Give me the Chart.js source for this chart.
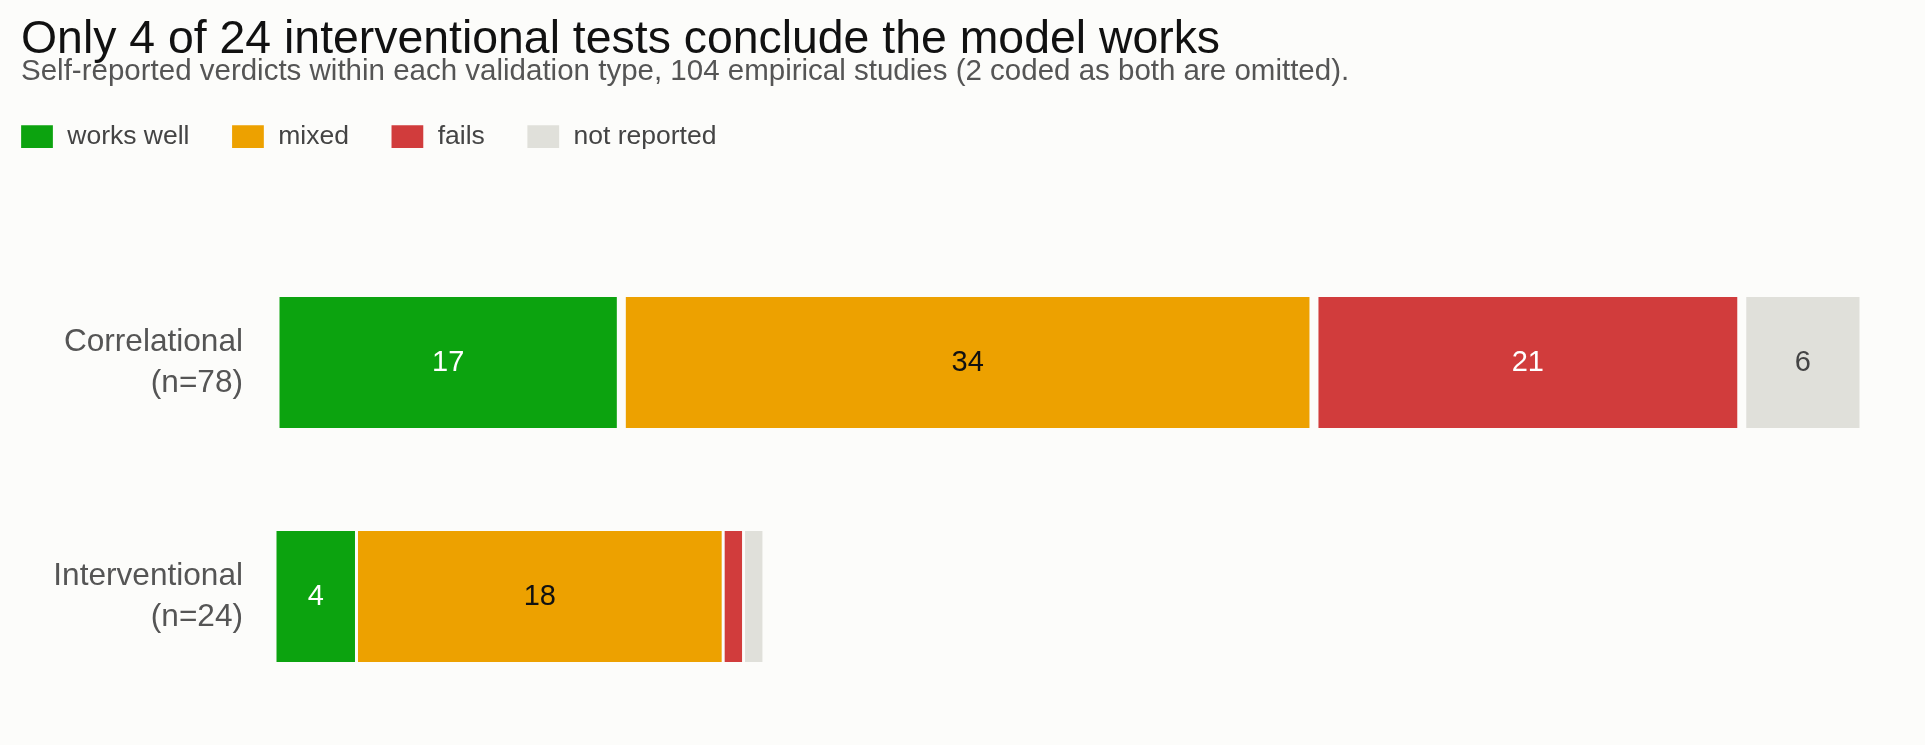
<!DOCTYPE html>
<html><head><meta charset="utf-8">
<script src="https://cdn.jsdelivr.net/npm/chart.js@4.4.1/dist/chart.umd.min.js"></script>
<style>html,body{margin:0;padding:0;background:#fcfcfa;overflow:hidden}#wrap{width:1925px;height:745px;position:relative}</style>
</head><body><div id="wrap"><canvas id="c"></canvas></div>
<script>
const categories = [['Correlational', '(n=78)'], ['Interventional', '(n=24)']];
const seriesNames = ['works well', 'mixed', 'fails', 'not reported'];
const worksWell = [17, 4];
const mixed = [34, 18];
const fails = [21, 1];
const notReported = [6, 1];
const xMax = 78;

const seriesValues = [worksWell, mixed, fails, notReported];
const seriesColors = ['#0ca30f', '#eda100', '#d13c3c', '#e0e0da'];
const valueColors = ['#ffffff', '#111111', '#ffffff', '#444444'];
const BG = '#fcfcfa';
const FONT = "'Liberation Sans', Arial, Helvetica, sans-serif";

const bgPlugin = {
  id: 'bg',
  beforeDraw(chart) {
    const c = chart.ctx;
    c.save(); c.fillStyle = BG; c.fillRect(0, 0, chart.width, chart.height); c.restore();
  }
};
const legendShift = {
  id: 'legendShift',
  afterLayout(chart) {
    const L = chart.legend;
    const dx = 20 - (L.left + L.options.labels.padding);
    L.left += dx; L.right += dx;
  }
};
const valueLabels = {
  id: 'valueLabels',
  afterDatasetsDraw(chart) {
    const c = chart.ctx;
    c.save();
    c.font = '29px ' + FONT;
    c.textAlign = 'center';
    c.textBaseline = 'middle';
    chart.data.datasets.forEach((ds, i) => {
      const meta = chart.getDatasetMeta(i);
      meta.data.forEach((bar, j) => {
        const w = Math.abs(bar.x - bar.base);
        if (w < 40) return;
        c.fillStyle = valueColors[i];
        c.fillText(String(ds.data[j]), (bar.x + bar.base) / 2, bar.y);
      });
    });
    c.restore();
  }
};

const datasets = seriesNames.map((name, i) => ({
  label: name,
  data: seriesValues[i],
  backgroundColor: seriesColors[i],
  borderColor: BG,
  borderWidth: (ctx) => ctx.dataIndex === 0
    ? {left: 4.5, right: 4.5, top: 0, bottom: 0}
    : {left: 1.5, right: 1.5, top: 0, bottom: 0},
  borderSkipped: false,
  inflateAmount: 0,
  barPercentage: 0.56,
  categoryPercentage: 1.0
}));

new Chart(document.getElementById('c'), {
  type: 'bar',
  data: { labels: categories, datasets },
  options: {
    indexAxis: 'y',
    responsive: true,
    maintainAspectRatio: false,
    devicePixelRatio: 1,
    animation: false,
    layout: { padding: { left: 21, right: 61, top: 0, bottom: 31.5 } },
    plugins: {
      title: {
        display: true, align: 'start',
        text: 'Only 4 of 24 interventional tests conclude the model works',
        color: '#111111',
        font: { family: FONT, size: 46.4, weight: 'normal', lineHeight: 1 },
        padding: { top: 17.2, bottom: 0 }
      },
      subtitle: {
        display: true, align: 'start',
        text: 'Self-reported verdicts within each validation type, 104 empirical studies (2 coded as both are omitted).',
        color: '#555555',
        font: { family: FONT, size: 29.5, weight: 'normal', lineHeight: 1 },
        padding: { top: -6.9, bottom: -4.45 }
      },
      legend: {
        display: true, position: 'top', align: 'start',
        labels: {
          boxWidth: 34, boxHeight: 25, padding: 41.5,
          color: '#444444',
          font: { family: FONT, size: 26.5 }
        }
      },
      tooltip: { enabled: false }
    },
    scales: {
      x: {
        stacked: true, position: 'top', min: 0, max: xMax,
        grid: { display: false, drawTicks: false },
        border: { display: false },
        ticks: { display: false },
        afterFit(scale) { scale.height = 85.75; scale.paddingLeft = 0; scale.paddingRight = 0; }
      },
      y: {
        stacked: true,
        grid: { display: false, drawTicks: false },
        border: { display: false },
        ticks: {
          color: '#555555', padding: 32,
          font: { family: FONT, size: 31.6, lineHeight: 1.29 }
        },
        afterFit(scale) { scale.width = 254; scale.paddingTop = 0; scale.paddingBottom = 0; }
      }
    }
  },
  plugins: [bgPlugin, legendShift, valueLabels]
});
</script>
</body></html>
